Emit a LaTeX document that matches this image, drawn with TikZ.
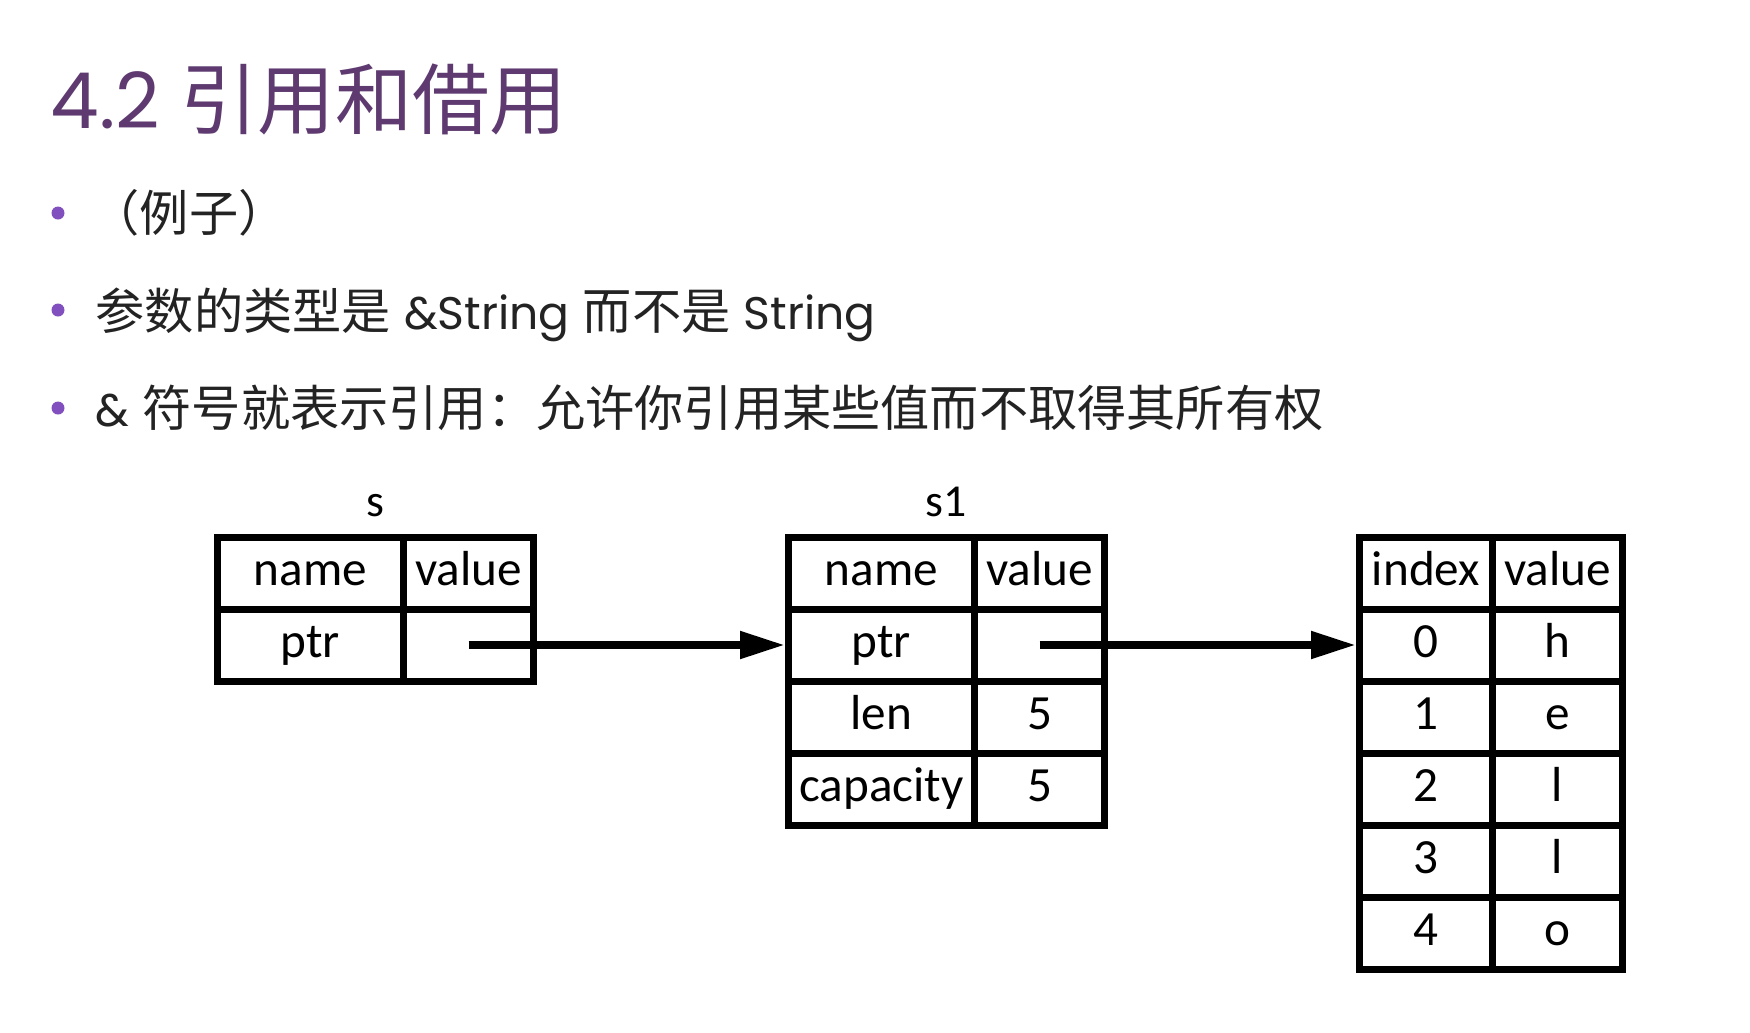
\documentclass[tikz,border=0pt]{standalone}
\usepackage{fontspec}
\setmainfont{Poppins}
\newfontfamily\cjk{Noto Sans CJK SC}
\newfontfamily\cellfont{Carlito}
\usetikzlibrary{positioning,chains,arrows.meta}
\definecolor{mypurple}{RGB}{94,58,112}
\definecolor{mydot}{RGB}{130,80,190}
\definecolor{mytext}{RGB}{35,35,35}
\newcommand{\lat}[1]{{\fontsize{13}{17}\selectfont #1}}

\begin{document}
\begin{tikzpicture}[x=0.1mm,y=-0.1mm,
  cell/.style={draw,line width=0.7mm,outer sep=0pt,inner sep=0pt,minimum height=7.2mm,
    font=\cellfont\fontsize{14}{16}\selectfont,text height=3.4mm,text depth=0.9mm},
  namecell/.style={cell,minimum width=18.6mm},
  valcell/.style={cell,minimum width=13mm},
  idxcell/.style={cell,minimum width=13.3mm},
  varlabel/.style={font=\cellfont\fontsize{13}{15}\selectfont,anchor=base,inner sep=0pt},
  bullet/.style={circle,fill=mydot,inner sep=0pt,minimum size=1.3mm},
  btext/.style={anchor=base west,inner sep=0pt,text=mytext,font=\fontsize{14}{17}\selectfont},
  ptrarrow/.style={line width=0.8mm,-{Triangle[length=4.5mm,width=2.6mm]},shorten >=0.35mm}
]
\fill[white] (0,0) rectangle (1750,1032);

% the title and the bullets
\node[anchor=base west,inner sep=0pt,text=mypurple,font=\fontsize{22}{26}\selectfont] (title) at (50,128) {4.2 {\cjk 引用和借用}};
\foreach \y/\n in {213/1,310/2,408/3}
  \node[bullet] (dot\n) at (58,\y) {};
\node[btext] (b1) at (90,231) {\cjk （例子）};
\node[btext] (b2) at (95,329) {{\cjk 参数的类型是} \lat{\&String} {\cjk 而不是} \lat{String}};
\node[btext] (b3) at (95,426) {\lat{\&} {\cjk 符号就表示引用：允许你引用某些值而不取得其所有权}};

% the variable s
\begin{scope}[shift={(310.5,573)},start chain=going below,node distance=0pt]
\foreach \t [count=\i] in {name,ptr}
  \node[namecell,on chain] (sn\i) {\t};
\end{scope}
\foreach \t [count=\i] in {value,{}}
  \node[valcell,right=0pt of sn\i] (sv\i) {\t};
\node[varlabel] (slbl) at (375.5,516) {s};

% the variable s1
\begin{scope}[shift={(881.5,573)},start chain=going below,node distance=0pt]
\foreach \t [count=\i] in {name,ptr,len,capacity}
  \node[namecell,on chain] (s1n\i) {\t};
\end{scope}
\foreach \t [count=\i] in {value,{},5,5}
  \node[valcell,right=0pt of s1n\i] (s1v\i) {\t};
\node[varlabel] (s1lbl) at (946.5,516) {s1};

% the heap data
\begin{scope}[shift={(1426,573)},start chain=going below,node distance=0pt]
\foreach \t [count=\i] in {index,0,1,2,3,4}
  \node[idxcell,on chain] (hi\i) {\t};
\end{scope}
\foreach \t [count=\i] in {value,h,e,l,l,o}
  \node[valcell,right=0pt of hi\i] (hv\i) {\t};

% the pointers
\draw[ptrarrow] (sv2.center) -- (s1n2.west);
\draw[ptrarrow] (s1v2.center) -- (hi2.west);
\end{tikzpicture}
\end{document}
